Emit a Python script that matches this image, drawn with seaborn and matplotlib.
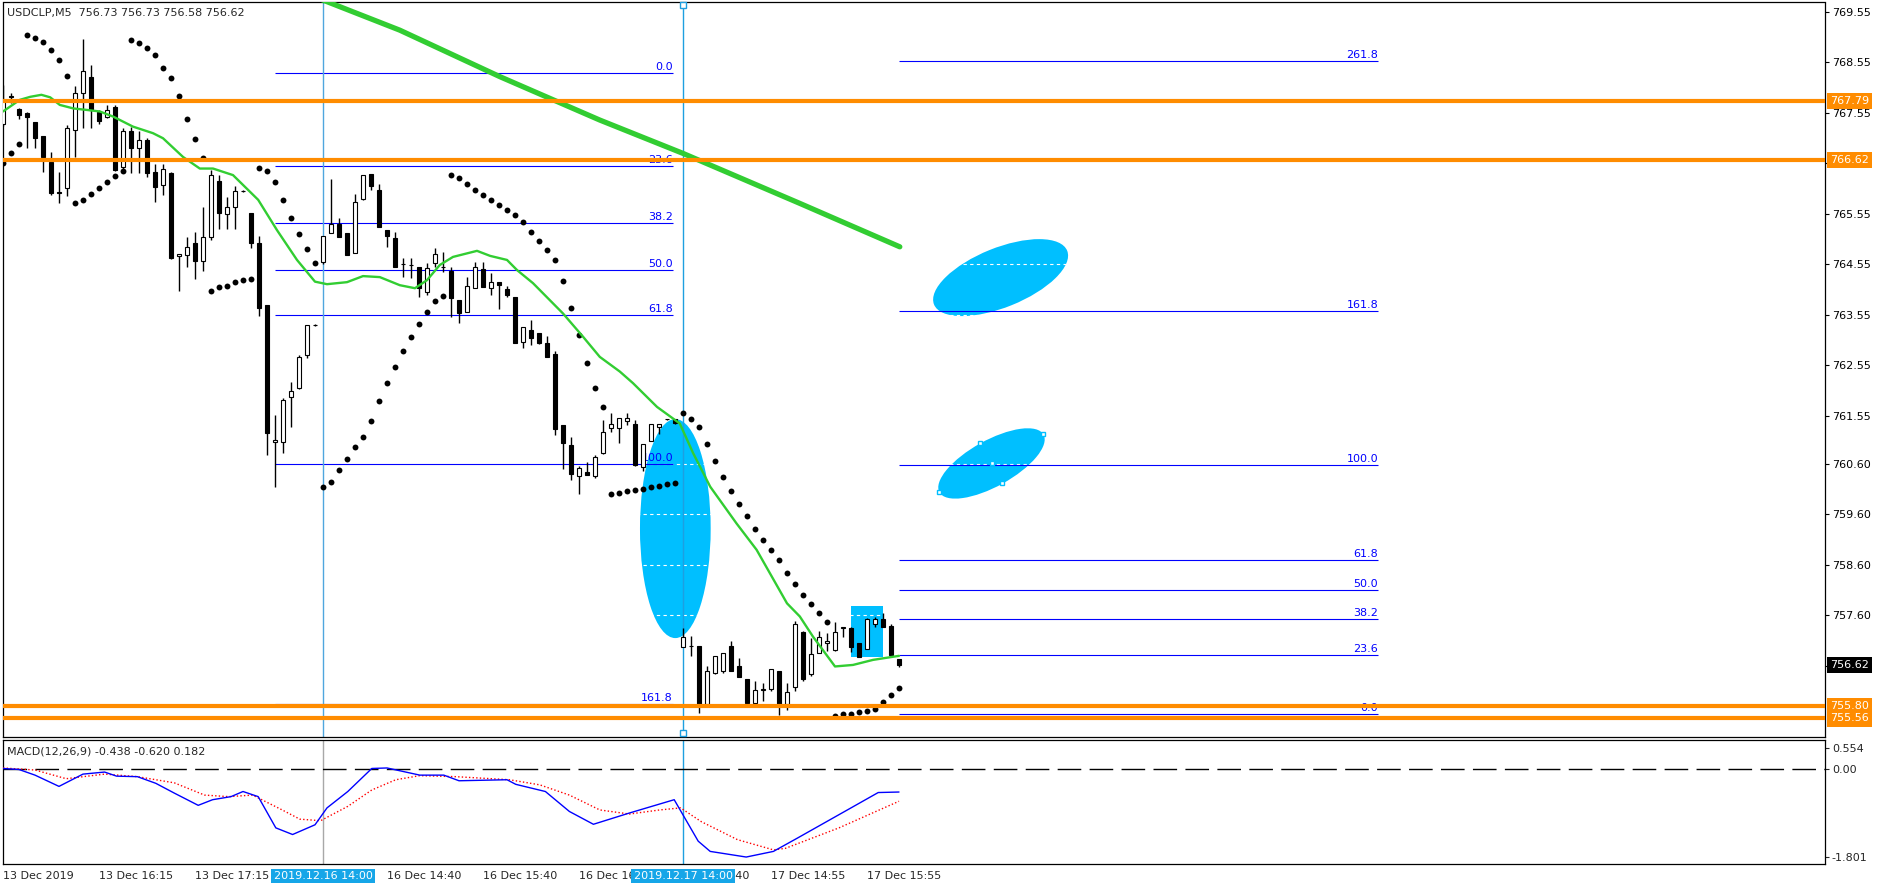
# USDCLP M5 chart in the MT4 look: candles, parabolic SAR, moving averages,
# fibonacci levels, drawn objects and a MACD sub-window

import numpy as np
import matplotlib
matplotlib.use("Agg")
import matplotlib.pyplot as plt
import matplotlib.transforms as mtransforms
from matplotlib.patches import Ellipse, Rectangle
import seaborn as sns

sns.set_style("white")
plt.rcParams['font.family'] = ['DejaVu Sans']

# ---- candles (one per 5 minutes) ----
opens = [767.33, 767.88, 767.63, 767.55, 767.37, 767.09, 766.58, 765.99, 766.06, 767.21,
         767.95, 768.26, 767.57, 767.47, 767.67, 766.48, 767.19, 766.86, 767.01, 766.38,
         766.12, 766.36, 764.72, 764.74, 764.98, 764.62, 765.09, 766.20, 765.55, 765.69,
         766.00, 765.57, 764.98, 763.75, 761.04, 761.04, 761.93, 762.11, 762.76, 763.35,
         764.60, 765.17, 765.35, 765.17, 764.78, 765.85, 766.34, 766.03, 765.23, 765.07,
         764.56, 764.54, 764.50, 764.00, 764.58, 764.50, 764.42, 763.85, 763.61, 764.08,
         764.46, 764.08, 764.20, 764.06, 763.91, 763.02, 763.25, 763.19, 762.99, 762.78,
         761.37, 760.98, 760.37, 760.44, 760.36, 760.82, 761.31, 761.31, 761.45, 761.39,
         760.54, 761.05, 761.33, 761.49, 761.49, 756.98, 757.00, 757.00, 755.85, 756.46,
         756.50, 757.00, 756.60, 756.34, 755.87, 756.12, 756.14, 756.50, 755.85, 756.18,
         757.27, 756.44, 756.86, 757.06, 756.92, 757.35, 757.35, 757.05, 756.94, 757.43,
         757.53, 757.39, 756.73]
highs = [768.10, 767.95, 767.65, 767.56, 767.38, 767.09, 766.78, 766.38, 767.31, 768.08,
         769.01, 768.50, 767.60, 767.70, 767.70, 767.25, 767.27, 767.20, 767.05, 766.54,
         766.54, 766.38, 764.76, 765.09, 765.19, 765.69, 766.42, 766.32, 765.89, 766.10,
         766.02, 765.57, 765.12, 763.75, 761.57, 761.91, 762.22, 762.76, 763.35, 763.37,
         765.12, 766.24, 765.47, 765.17, 765.95, 766.32, 766.34, 766.14, 765.23, 765.20,
         764.68, 764.68, 764.50, 764.58, 764.88, 764.80, 764.50, 763.85, 764.31, 764.60,
         764.60, 764.38, 764.20, 764.12, 763.91, 763.31, 763.45, 763.19, 763.14, 762.84,
         761.37, 761.13, 760.56, 760.63, 760.78, 761.47, 761.61, 761.51, 761.61, 761.47,
         761.00, 761.39, 761.39, 761.50, 761.49, 757.35, 757.20, 757.00, 756.60, 756.80,
         756.86, 757.10, 756.75, 756.34, 756.30, 756.26, 756.54, 756.50, 756.26, 757.50,
         757.30, 757.15, 757.30, 757.26, 757.47, 757.37, 757.37, 757.05, 757.55, 757.57,
         757.65, 757.43, 756.73]
lows = [767.30, 767.75, 767.43, 766.86, 766.86, 766.38, 765.93, 765.77, 765.91, 766.68,
        767.25, 767.25, 767.33, 767.45, 766.40, 766.45, 766.36, 766.36, 766.28, 765.79,
        765.93, 764.66, 764.02, 764.50, 764.26, 764.42, 765.03, 765.25, 765.25, 765.25,
        765.98, 764.88, 763.53, 760.78, 760.15, 760.82, 761.33, 762.08, 762.70, 763.33,
        764.55, 765.17, 765.10, 764.74, 764.78, 765.82, 766.03, 765.29, 764.90, 764.50,
        764.30, 764.28, 763.91, 763.95, 764.50, 764.40, 763.51, 763.39, 763.60, 764.08,
        764.10, 763.95, 763.67, 763.90, 762.99, 762.90, 762.96, 762.98, 762.72, 761.17,
        760.50, 760.28, 760.00, 760.38, 760.33, 760.80, 761.23, 761.02, 761.37, 760.56,
        760.46, 761.05, 761.20, 761.48, 761.40, 756.98, 756.80, 755.67, 755.80, 756.44,
        756.46, 756.50, 756.38, 755.80, 755.82, 755.90, 756.10, 755.63, 755.72, 756.10,
        756.30, 756.40, 756.86, 756.90, 756.90, 757.18, 756.88, 756.78, 756.94, 757.37,
        757.37, 756.80, 756.58]
closes = [767.81, 767.86, 767.51, 767.47, 767.05, 766.68, 765.97, 765.97, 767.25, 767.95,
          768.38, 767.61, 767.39, 767.61, 766.42, 767.19, 766.86, 767.01, 766.36, 766.08,
          766.44, 764.68, 764.76, 764.90, 764.62, 765.09, 766.32, 765.57, 765.69, 766.01,
          766.00, 764.98, 763.69, 761.21, 761.08, 761.87, 762.05, 762.72, 763.35, 763.35,
          765.12, 765.35, 765.10, 764.74, 765.79, 766.32, 766.10, 765.29, 765.11, 764.50,
          764.56, 764.54, 764.08, 764.48, 764.76, 764.50, 763.88, 763.59, 764.12, 764.50,
          764.10, 764.20, 764.14, 763.95, 762.99, 763.31, 763.10, 762.99, 762.72, 761.29,
          761.02, 760.40, 760.52, 760.38, 760.74, 761.23, 761.39, 761.51, 761.51, 760.58,
          761.00, 761.39, 761.39, 761.49, 761.41, 757.18, 757.00, 755.85, 756.50, 756.80,
          756.86, 756.50, 756.38, 755.87, 756.12, 756.14, 756.54, 755.85, 756.08, 757.43,
          756.34, 756.84, 757.18, 757.10, 757.27, 757.37, 756.98, 756.78, 757.53, 757.53,
          757.37, 756.82, 756.62]

# parabolic SAR, one dot per candle
sar = [766.55, 766.76, 766.94, 769.09, 769.04, 768.96, 768.80, 768.59, 768.28, 765.77,
       765.83, 765.95, 766.07, 766.18, 766.31, 766.41, 768.99, 768.94, 768.84, 768.70,
       768.45, 768.25, 767.89, 767.43, 767.03, 766.66, 764.03, 764.10, 764.13, 764.20,
       764.24, 764.27, 766.47, 766.41, 766.19, 765.83, 765.47, 765.15, 764.86, 764.58,
       760.15, 760.24, 760.48, 760.70, 760.94, 761.14, 761.46, 761.85, 762.21, 762.52,
       762.84, 763.12, 763.38, 763.61, 763.83, 763.93, 766.33, 766.26, 766.14, 766.03,
       765.93, 765.83, 765.73, 765.63, 765.53, 765.40, 765.20, 765.02, 764.84, 764.64,
       764.23, 763.69, 763.15, 762.59, 762.11, 761.73, 760.00, 760.03, 760.07, 760.09,
       760.11, 760.14, 760.17, 760.21, 760.23, 761.60, 761.50, 761.34, 760.99, 760.65,
       760.35, 760.07, 759.81, 759.56, 759.32, 759.10, 758.90, 758.70, 758.45, 758.22,
       758.01, 757.82, 757.64, 757.48, 755.60, 755.64, 755.65, 755.69, 755.71, 755.74,
       755.89, 756.03, 756.16]

# short moving average (thin green), read at points along the curve
ma_idx = [0, 2.1, 3.4, 4.8, 5.9, 7.1, 8.8, 10.5, 12.1, 13.75, 16.25, 18.75, 20, 22.5,
          24.6, 26.25, 28.75, 31.9, 34.25, 36.75, 39, 40.5, 43, 45, 47.1, 49.6, 51.5,
          53, 54.6, 56.25, 59.25, 60.9, 63, 64.25, 66.25, 70, 72.5, 74.6, 77.1, 78.75,
          81.75, 83.75, 84.6, 86.25, 88.4, 91.7, 94.2, 98, 99.6, 101.25, 104, 106.25,
          108.75, 112]
ma_val = [767.58, 767.81, 767.87, 767.91, 767.86, 767.71, 767.64, 767.61, 767.58, 767.48,
          767.28, 767.15, 767.05, 766.68, 766.45, 766.45, 766.32, 765.83, 765.23, 764.64,
          764.21, 764.16, 764.20, 764.32, 764.30, 764.14, 764.08, 764.24, 764.54, 764.70,
          764.82, 764.72, 764.64, 764.44, 764.18, 763.58, 763.12, 762.72, 762.43, 762.20,
          761.73, 761.50, 761.40, 760.82, 760.15, 759.42, 758.90, 757.84, 757.58, 757.18,
          756.59, 756.62, 756.72, 756.80]

# long moving average (thick green)
long_ma_idx = [38, 49.6, 62.1, 74.6, 85, 99.6, 112.1]
long_ma_val = [769.91, 769.19, 768.27, 767.41, 766.75, 765.76, 764.90]

# horizontal support / resistance lines
hlines = [767.79, 766.62, 755.80, 755.56]

# fibonacci retracement (left) and expansion (right)
fib1_labels = ["0.0", "23.6", "38.2", "50.0", "61.8", "100.0", "161.8"]
fib1_prices = [768.34, 766.50, 765.37, 764.45, 763.54, 760.60, 755.855]
fib2_labels = ["0.0", "23.6", "38.2", "50.0", "61.8", "100.0", "161.8", "261.8"]
fib2_prices = [755.64, 756.82, 757.53, 758.10, 758.70, 760.57, 763.63, 768.57]

# price axis
price_ticks = [769.55, 768.55, 767.55, 766.55, 765.55, 764.55, 763.55, 762.55,
               761.55, 760.60, 759.60, 758.60, 757.60, 756.60]

# MACD main line and signal, read at points along the curves
macd_idx = [0, 2, 4, 7, 10, 12.7, 14.2, 16.8, 19.1, 21.4, 24.4, 26.2, 28.5, 30, 31.9,
            34.1, 36.2, 39, 40.5, 43.1, 46.1, 48, 52.1, 55.1, 57, 63, 64.1, 67.8, 70.8,
            73.8, 78.3, 83.9, 86.9, 88.4, 92.9, 96.3, 99.3, 106, 109.4, 112]
macd_val = [0.02, 0.0, -0.11, -0.33, -0.09, -0.05, -0.13, -0.14, -0.27, -0.46, -0.70,
            -0.59, -0.53, -0.43, -0.53, -1.14, -1.27, -1.08, -0.75, -0.43, 0.02, 0.03,
            -0.11, -0.11, -0.22, -0.20, -0.29, -0.43, -0.82, -1.07, -0.85, -0.59, -1.40,
            -1.60, -1.71, -1.60, -1.34, -0.75, -0.45, -0.44]
signal_idx = [0, 4, 7.9, 12.7, 16.8, 21.4, 25.2, 28.2, 31.2, 34.9, 37.1, 39.7, 43.1,
              46.1, 49.1, 52.1, 56.6, 63.3, 67.1, 70.8, 74.6, 78.3, 82.1, 84.7, 87.3,
              91.8, 96.3, 97.8, 104.5, 112]
signal_val = [0.03, -0.01, -0.18, -0.09, -0.14, -0.26, -0.50, -0.53, -0.50, -0.79,
              -0.97, -1.00, -0.72, -0.40, -0.20, -0.12, -0.14, -0.20, -0.30, -0.50,
              -0.79, -0.87, -0.79, -0.75, -1.02, -1.37, -1.57, -1.54, -1.14, -0.62]

# time axis
time_tick_idx = [0, 12, 24, 36, 48, 60, 72, 84, 96, 108]
time_tick_labels = ["13 Dec 2019", "13 Dec 16:15", "13 Dec 17:15", "16 Dec 13:40",
                    "16 Dec 14:40", "16 Dec 15:40", "16 Dec 16:40", "17 Dec 13:40",
                    "17 Dec 14:55", "17 Dec 15:55"]
vline_idx = [40, 85]
vline_labels = ["2019.12.16 14:00", "2019.12.17 14:00"]

# ---- figure layout (pixel exact) ----
W, H = 1882, 888
fig = plt.figure(figsize=(W / 100, H / 100), dpi=100)


def rect(x0, y0, x1, y1):
    return [x0 / W, 1 - y1 / H, (x1 - x0) / W, (y1 - y0) / H]


ax = fig.add_axes(rect(3, 2.5, 1825, 737))
ax2 = fig.add_axes(rect(3, 739.5, 1825, 864))

XMAX = 227.75
ax.set_xlim(0, XMAX)
ax.set_ylim(755.193, 769.738)
ax2.set_xlim(0, XMAX)
ax2.set_ylim(-1.846, 0.586)

CYAN = '#00BFFF'
GREEN = '#32CD32'
ORANGE = '#FF8C00'
FIB = '#0000FF'


def px_ellipse(a, cx, cy, w_px, h_px, angle):
    # ellipse sized in screen pixels, anchored at a data point
    trans = fig.dpi_scale_trans + mtransforms.ScaledTranslation(cx, cy, a.transData)
    a.add_patch(Ellipse((0, 0), w_px / 100, h_px / 100, angle=angle,
                        transform=trans, fc=CYAN, ec='none', zorder=1))


# drawn objects (background)
px_ellipse(ax, 84.04, 759.32, 70.7, 219, 0)
px_ellipse(ax, 124.7, 764.29, 143.6, 59.4, 22)
px_ellipse(ax, 123.56, 760.61, 119, 46, 29)
ax.add_patch(Rectangle((105.96, 756.78), 4.0, 1.01, fc=CYAN, ec='none', zorder=1))

# chart grid is white dashed, only visible over the filled objects
ax.set_yticks(price_ticks)
ax.set_yticklabels([f"{p:.2f}" for p in price_ticks])
ax.grid(axis='y', color='white', linestyle=(0, (3, 3)), lw=0.8)
ax.grid(axis='x', visible=False)
ax.set_axisbelow('line')

# fibonacci levels
ax.hlines(fib1_prices, 34, 83.75, color=FIB, lw=0.8, zorder=2)
for lab, p in zip(fib1_labels, fib1_prices):
    ax.text(83.75, p + 0.02, lab, ha='right', va='bottom', color=FIB, fontsize=8, zorder=2)
ax.hlines(fib2_prices, 112, 171.9, color=FIB, lw=0.8, zorder=2)
for lab, p in zip(fib2_labels, fib2_prices):
    ax.text(171.9, p + 0.02, lab, ha='right', va='bottom', color=FIB, fontsize=8, zorder=2)

# vertical lines
ax.axvline(vline_idx[0], color='#4FA6DE', lw=1, zorder=2)
ax2.axvline(vline_idx[0], color='#A8A8A8', lw=1, zorder=2)
ax.axvline(vline_idx[1], color='#1E9FE0', lw=1, zorder=2)
ax2.axvline(vline_idx[1], color='#1E9FE0', lw=1, zorder=2)
ax.plot([85, 85], [769.69, 755.27], ls='none', marker='s', ms=4, mfc='white',
        mec='#1E9FE0', mew=1, zorder=6, clip_on=False)
ax.plot([117.04, 122.13, 130.04, 124.91, 123.59], [760.04, 761.01, 761.19, 760.22, 760.61],
        ls='none', marker='s', ms=3.5, mfc='white', mec=CYAN, mew=1, zorder=6)

# candles
x = np.arange(len(opens))
o = np.array(opens)
c = np.array(closes)
up = c >= o
ax.vlines(x, lows, highs, color='black', lw=1, zorder=3)
ax.bar(x[up], c[up] - o[up], bottom=o[up], width=0.5, color='white',
       edgecolor='black', lw=0.8, zorder=3.5)
ax.bar(x[~up], o[~up] - c[~up], bottom=c[~up], width=0.5, color='black',
       edgecolor='black', lw=0.8, zorder=3.5)

# indicators
ax.scatter(x, sar, s=18, color='black', linewidths=0, zorder=4)
sns.lineplot(x=ma_idx, y=ma_val, ax=ax, color=GREEN, lw=1.7, sort=False,
             estimator=None, zorder=4)
sns.lineplot(x=long_ma_idx, y=long_ma_val, ax=ax, color=GREEN, lw=3.8, sort=False,
             estimator=None, zorder=4)

for p in hlines:
    ax.axhline(p, color=ORANGE, lw=3.0, zorder=5)

# price axis on the right
ax.yaxis.tick_right()
ax.tick_params(axis='y', direction='out', length=3, width=0.8, pad=2, labelsize=8,
               colors='black')
ax.tick_params(axis='x', bottom=False, labelbottom=False)
ax.set_xlabel('')
ax.set_ylabel('')
price_tag = mtransforms.blended_transform_factory(ax.transAxes, ax.transData)
for p in hlines:
    ax.text(1.0027, p, f"{p:.2f}", transform=price_tag, ha='left', va='center',
            color='white', fontsize=8, clip_on=False, zorder=10,
            bbox=dict(boxstyle='square,pad=0.3', fc=ORANGE, ec='none'))
ax.text(1.0027, closes[-1], f"{closes[-1]:.2f}", transform=price_tag, ha='left',
        va='center', color='white', fontsize=8, clip_on=False, zorder=10,
        bbox=dict(boxstyle='square,pad=0.3', fc='black', ec='none'))

# MACD window
ax2.axhline(0, color='black', lw=1, linestyle=(0, (17, 6)), zorder=2)
sns.lineplot(x=signal_idx, y=signal_val, ax=ax2, color='#FF0000', lw=1,
             linestyle=(0, (1, 1.6)), sort=False, estimator=None, zorder=3)
sns.lineplot(x=macd_idx, y=macd_val, ax=ax2, color='#0000FF', lw=1, sort=False,
             estimator=None, zorder=4)
ax2.yaxis.tick_right()
ax2.set_yticks([0.42, 0.0, -1.709])
ax2.set_yticklabels(['0.554', '0.00', '-1.801'])
ax2.tick_params(axis='y', direction='out', length=3, width=0.8, pad=2, labelsize=8)
ax2.set_xticks(time_tick_idx)
ax2.set_xticklabels(time_tick_labels)
for lab in ax2.get_xticklabels():
    lab.set_ha('left')
ax2.tick_params(axis='x', direction='out', length=3, width=0.8, pad=2, labelsize=8)
ax2.set_xlabel('')
ax2.set_ylabel('')
time_tag = mtransforms.blended_transform_factory(ax2.transData, ax2.transAxes)
for xi, lab in zip(vline_idx, vline_labels):
    ax2.text(xi, -0.096, lab, transform=time_tag, ha='center', va='center',
             color='white', fontsize=8, clip_on=False, zorder=10,
             bbox=dict(boxstyle='square,pad=0.22', fc='#16A6E8', ec='none'))

for a in (ax, ax2):
    for s in a.spines.values():
        s.set_color('black')
        s.set_linewidth(0.9)

# window titles
fig.text(7 / W, 1 - 13 / H, "USDCLP,M5  756.73 756.73 756.58 756.62", fontsize=8,
         va='center', ha='left')
fig.text(7 / W, 1 - 751 / H, "MACD(12,26,9) -0.438 -0.620 0.182", fontsize=8,
         va='center', ha='left')

fig.savefig('out.png', dpi=100)
